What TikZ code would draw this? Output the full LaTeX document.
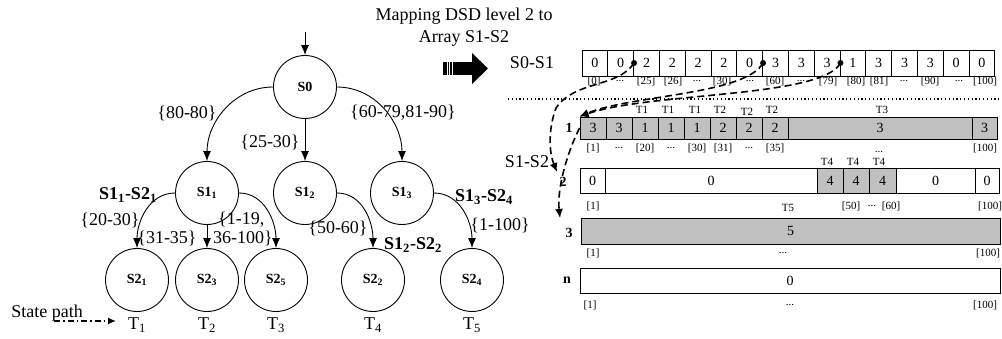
\documentclass[tikz,border=0pt]{standalone}
\usepackage{fontspec}
\setmainfont{Liberation Serif}
\usetikzlibrary{arrows.meta}
\newcommand{\myfs}[1]{\fontsize{#1}{#1}\selectfont}
\definecolor{cellgray}{RGB}{192,192,192}
\begin{document}
\begin{tikzpicture}[x=1pt,y=-1pt,
  state/.style={circle,draw,line width=0.9pt,minimum size=63pt,inner sep=0pt,font=\myfs{14}\bfseries},
  lbl/.style={inner sep=0pt,font=\myfs{18}},
  blbl/.style={inner sep=0pt,font=\myfs{18}\bfseries},
  idx/.style={inner sep=0pt,font=\myfs{11}},
  rowno/.style={inner sep=0pt,font=\myfs{14}\bfseries},
  cell/.style={draw,line width=0.9pt,inner sep=0pt,minimum height=26pt,font=\myfs{14}},
  gcell/.style={cell,fill=cellgray},
  arr/.style={-{Latex[length=10pt,width=8pt]},line width=0.9pt},
  dsh/.style={line width=1.6pt,dash pattern=on 7pt off 4pt,-{Latex[length=9pt,width=8pt]}},
  dotstart/.style={circle,fill,inner sep=0pt,minimum size=6pt}
]
\useasboundingbox (0,0) rectangle (1002,339);

% ---------- state tree ----------
\coordinate (in) at (305,32);
\node[state] (S0)  at (305,87)  {S0};
\node[state] (S11) at (207,193) {S1\textsubscript{1}};
\node[state] (S12) at (305,193) {S1\textsubscript{2}};
\node[state] (S13) at (402,193) {S1\textsubscript{3}};
\node[state] (S21) at (137,280) {S2\textsubscript{1}};
\node[state] (S23) at (207,280) {S2\textsubscript{3}};
\node[state] (S25) at (276,280) {S2\textsubscript{5}};
\node[state] (S22) at (373,280) {S2\textsubscript{2}};
\node[state] (S24) at (472,280) {S2\textsubscript{4}};

\draw[arr] (in) -- (S0.north);
\draw[arr] (S0.west) to[out=180,in=90] (S11.north);
\draw[arr] (S0.south) -- (S12.north);
\draw[arr] (S0.east) to[out=0,in=90] (S13.north);
\draw[arr] (S11.west) to[out=180,in=90] (S21.north);
\draw[arr] (S11.south) -- (S23.north);
\draw[arr] (S11.east) to[out=0,in=90] (S25.north);
\draw[arr] (S12.east) to[out=0,in=90] (S22.north);
\draw[arr] (S13.east) to[out=0,in=90] (S24.north);

\node[lbl] (l1) at (187,113) {\{80-80\}};
\node[lbl] (l2) at (270,142) {\{25-30\}};
\node[lbl] (l3) at (403,113) {\{60-79,81-90\}};
\node[lbl] (l4) at (110,220) {\{20-30\}};
\node[lbl] (l5) at (167,238) {\{31-35\}};
\node[lbl,anchor=west] (l6) at (218,220) {\{1-19,};
\node[lbl,anchor=west] (l7) at (213,238) {36-100\}};
\node[lbl] (l8) at (338,228) {\{50-60\}};
\node[lbl] (l9) at (500,225) {\{1-100\}};

\node[blbl] (g1) at (128,195) {S1\textsubscript{1}-S2\textsubscript{1}};
\node[blbl] (g2) at (413,245) {S1\textsubscript{2}-S2\textsubscript{2}};
\node[blbl] (g3) at (484,197) {S1\textsubscript{3}-S2\textsubscript{4}};

\node[lbl] (T1) at (137,325) {T\textsubscript{1}};
\node[lbl] (T2) at (207,325) {T\textsubscript{2}};
\node[lbl] (T3) at (276,325) {T\textsubscript{3}};
\node[lbl] (T4) at (373,325) {T\textsubscript{4}};
\node[lbl] (T5) at (472,325) {T\textsubscript{5}};

\node[lbl] (sp) at (47,313) {State path};
\coordinate (spa) at (54,321);
\coordinate (spb) at (116,321);
\draw[line width=1.4pt,dash pattern=on 6pt off 3pt on 1.5pt off 3pt,-{Latex[length=8pt,width=7pt]}] (spa) -- (spb);

% ---------- mapping caption and arrow ----------
\node[lbl,align=center] (cap) at (464,27) {Mapping DSD level 2 to\\[4pt]Array S1-S2};
\fill (443,62) rectangle (473,75);
\fill (472,53) -- (488,68.5) -- (472,84) -- cycle;
\fill[white] (446.7,61) rectangle (447.7,76);
\fill[white] (449.4,61) rectangle (450.4,76);
\fill[white] (452.1,61) rectangle (453.1,76);

\node[lbl] (s01) at (532,63) {S0-S1};
\node[lbl] (s12) at (527,162) {S1-S2};

% ---------- S0-S1 array ----------
\foreach \v [count=\i] in {0,0,2,2,2,2,0,3,3,3,1,3,3,3,0,0}
  \node[cell,minimum width=25.8pt] (a\i) at ({582+25.8*(\i-0.5)},63) {\v};
\node[idx] at (594,81) {[0]};
\node[idx] at (620,81) {...};
\node[idx] at (646,81) {[25]};
\node[idx] at (673,81) {[26]};
\node[idx] at (697,81) {...};
\node[idx] at (722,81) {[30]};
\node[idx] at (750,81) {...};
\node[idx] at (775,81) {[60]};
\node[idx] at (801,81) {...};
\node[idx] at (828,81) {[79]};
\node[idx] at (856,81) {[80]};
\node[idx] at (879,81) {[81]};
\node[idx] at (904,81) {...};
\node[idx] at (930,81) {[90]};
\node[idx] at (959,81) {...};
\node[idx] at (985,81) {[100]};

\draw[line width=1.3pt,dash pattern=on 1.2pt off 2.6pt] (508,99) -- (1000,99);

% ---------- S1-S2 rows ----------
\node[rowno] (n1) at (569,128) {1};
\node[rowno] (n2) at (563,182) {2};
\node[rowno] (n3) at (569,233) {3};
\node[rowno] (nn) at (567,280) {n};

% row 1
\foreach \v [count=\i] in {3,3,1,1,1,2,2,2}
  \node[gcell,minimum width=26pt,minimum height=22pt] (r\i) at ({580+26*(\i-0.5)},128) {\v};
\node[gcell,minimum width=184pt,minimum height=22pt] (r9) at (880,128) {3};
\node[gcell,minimum width=25pt,minimum height=22pt] (r10) at (984.5,128) {3};
\node[idx] at (642,110) {T1};
\node[idx] at (668,110) {T1};
\node[idx] at (695,110) {T1};
\node[idx] at (720,110) {T2};
\node[idx] at (747,112) {T2};
\node[idx] at (772,110) {T2};
\node[idx] at (882,110) {T3};
\node[idx] at (593,148) {[1]};
\node[idx] at (619,148) {...};
\node[idx] at (645,148) {[20]};
\node[idx] at (671,148) {...};
\node[idx] at (697,148) {[30]};
\node[idx] at (723,148) {[31]};
\node[idx] at (749,148) {...};
\node[idx] at (775,148) {[35]};
\node[idx] at (985,148) {[100]};

% row 2
\node[cell,minimum width=25pt,minimum height=25pt] (q1) at (592.5,180.5) {0};
\node[cell,minimum width=212pt,minimum height=25pt] (q2) at (711,180.5) {0};
\node[gcell,minimum width=26pt,minimum height=25pt] (q3) at (830,180.5) {4};
\node[gcell,minimum width=26pt,minimum height=25pt] (q4) at (856,180.5) {4};
\node[gcell,minimum width=27pt,minimum height=25pt] (q5) at (882.5,180.5) {4};
\node[cell,minimum width=79pt,minimum height=25pt] (q6) at (935.5,180.5) {0};
\node[cell,minimum width=24pt,minimum height=25pt] (q7) at (987,180.5) {0};
\node[idx] at (827,162) {T4};
\node[idx] at (853,162) {T4};
\node[idx] at (879,162) {T4};
\node[idx] at (879,152) {...};
\node[idx] at (593,206) {[1]};
\node[idx] at (851,206) {[50]};
\node[idx] at (872,206) {...};
\node[idx] at (891,206) {[60]};
\node[idx] at (990,206) {[100]};

% row 3
\node[gcell,minimum width=419pt,minimum height=26pt] (p1) at (790.5,231) {5};
\node[idx] at (788,208) {T5};
\node[idx] at (593,253) {[1]};
\node[idx] at (783,253) {...};
\node[idx] at (988,253) {[100]};

% row n
\node[cell,minimum width=420pt,minimum height=25pt] (m1) at (790,280.5) {0};
\node[idx] at (590,305) {[1]};
\node[idx] at (790,305) {...};
\node[idx] at (985,305) {[100]};

% ---------- dashed mapping links ----------
\coordinate (eA) at (557,172);
\coordinate (eD) at (560,218);
\node[dotstart] at (a2.east) {};
\node[dotstart] at (a7.east) {};
\node[dotstart] at (a10.east) {};
\draw[dsh] (a2.east) .. controls (618,88) and (575,80) .. (556,108)
                     .. controls (548,130) and (549,152) .. (eA);
\draw[dsh] (a7.east) .. controls (745,95) and (630,95) .. (r1.north west);
\draw[dsh] (a10.east) .. controls (822,98) and (650,92) .. (r1.north west);
\draw[dsh] (r1.west) .. controls (566,155) and (557,190) .. (eD);
\end{tikzpicture}
\end{document}
